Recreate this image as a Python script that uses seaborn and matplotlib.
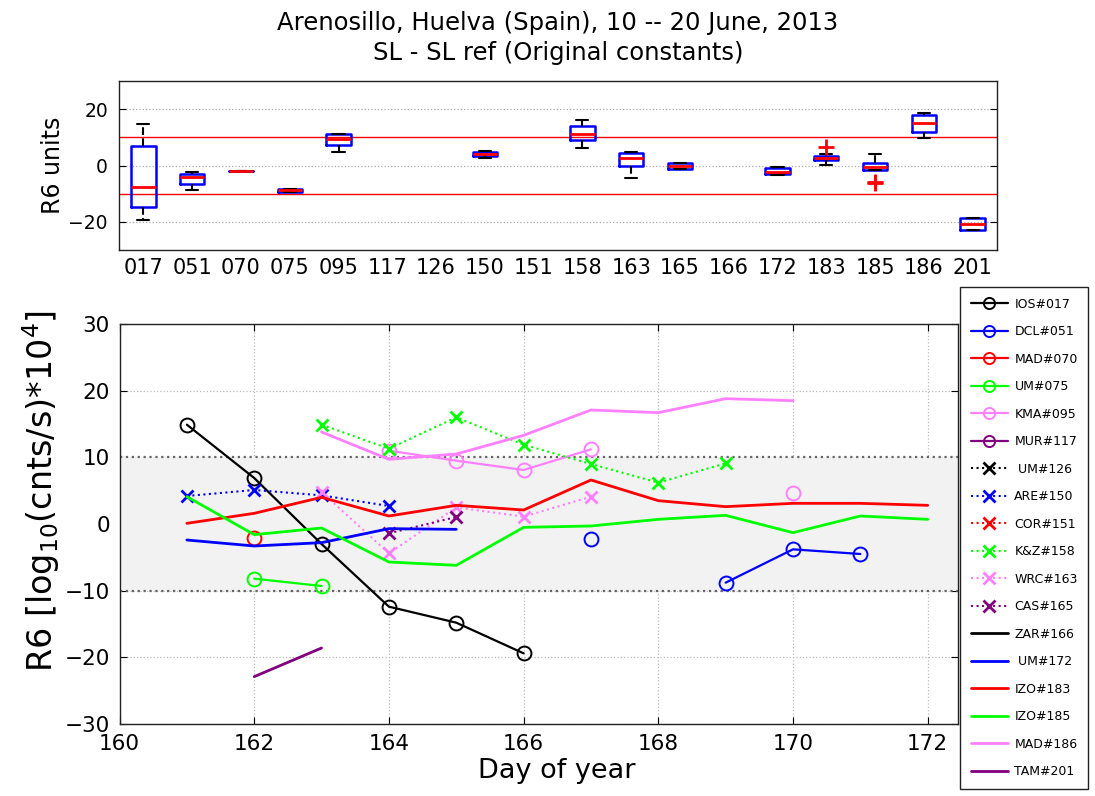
import numpy as np
import pandas as pd
import matplotlib
matplotlib.use("Agg")
import matplotlib.pyplot as plt
from matplotlib.lines import Line2D
import seaborn as sns

# ---------------------------------------------------------------- data
days = [161, 162, 163, 164, 165, 166, 167, 168, 169, 170, 171, 172]
nan = np.nan

ios_017 = [14.9, 6.9, -3.0, -12.4, -14.8, -19.4, nan, nan, nan, nan, nan, nan]
dcl_051 = [nan, nan, nan, nan, nan, nan, -2.3, nan, -8.8, -3.8, -4.5, nan]
mad_070 = [nan, -2.1, nan, nan, nan, nan, nan, nan, nan, nan, nan, nan]
um_075 = [nan, -8.2, -9.3, nan, nan, nan, nan, nan, nan, nan, nan, nan]
kma_095 = [nan, nan, nan, 11.0, 9.5, 8.1, 11.2, nan, nan, 4.7, nan, nan]
mur_117 = [nan] * 12
um_126 = [nan] * 12
are_150 = [4.2, 5.1, 4.3, 2.7, nan, nan, nan, nan, nan, nan, nan, nan]
cor_151 = [nan] * 12
kz_158 = [nan, nan, 14.9, 11.3, 16.0, 11.9, 9.0, 6.2, 9.1, nan, nan, nan]
wrc_163 = [nan, nan, 4.8, -4.4, 2.5, 1.1, 4.1, nan, nan, nan, nan, nan]
cas_165 = [nan, nan, nan, -1.4, 1.05, nan, nan, nan, nan, nan, nan, nan]
zar_166 = [nan] * 12
um_172 = [-2.4, -3.3, -2.8, -0.7, -0.8, nan, nan, nan, nan, nan, nan, nan]
izo_183 = [0.1, 1.6, 4.0, 1.2, 2.8, 2.1, 6.6, 3.5, 2.6, 3.1, 3.1, 2.8]
izo_185 = [4.1, -1.6, -0.6, -5.7, -6.2, -0.5, -0.3, 0.7, 1.3, -1.3, 1.2, 0.7]
mad_186 = [nan, nan, 13.8, 9.7, 10.5, 13.3, 17.1, 16.7, 18.8, 18.5, nan, nan]
tam_201 = [nan, -22.9, -18.6, nan, nan, nan, nan, nan, nan, nan, nan, nan]

station_labels = ["IOS#017", "DCL#051", "MAD#070", "UM#075", "KMA#095", "MUR#117",
                  " UM#126", "ARE#150", "COR#151", "K&Z#158", "WRC#163", "CAS#165",
                  "ZAR#166", " UM#172", "IZO#183", "IZO#185", "MAD#186", "TAM#201"]
station_codes = ["017", "051", "070", "075", "095", "117", "126", "150", "151",
                 "158", "163", "165", "166", "172", "183", "185", "186", "201"]
series = [ios_017, dcl_051, mad_070, um_075, kma_095, mur_117, um_126, are_150,
          cor_151, kz_158, wrc_163, cas_165, zar_166, um_172, izo_183, izo_185,
          mad_186, tam_201]

# ---------------------------------------------------------------- styles
black, blue, red, green, pink, purple = "#000000", "#0000ff", "#ff0000", "#00ff00", "#ff80ff", "#800080"
palette6 = [black, blue, red, green, pink, purple]
colors = palette6 * 3
markers = ["o"] * 6 + ["x"] * 6 + [None] * 6
linestyles = ["-"] * 6 + [":"] * 6 + ["-"] * 6

sns.set_style("ticks")
plt.rcParams["font.family"] = ["DejaVu Sans"]
plt.rcParams["mathtext.default"] = "regular"
for key in ("text.color", "axes.labelcolor", "xtick.color", "ytick.color"):
    plt.rcParams[key] = "black"

fig = plt.figure(figsize=(10.95, 7.96), dpi=100)
ax_top = fig.add_axes([119 / 1095, 1 - 250 / 796, 878 / 1095, 169 / 796])
ax = fig.add_axes([119.5 / 1095, 1 - 724 / 796, 838.5 / 1095, 400 / 796])


# ---------------------------------------------------------------- box statistics
def box_stats(values):
    v = np.sort(np.asarray(values, dtype=float))
    v = v[~np.isnan(v)]
    if v.size == 0:
        return None
    q1, med, q3 = np.percentile(v, [25, 50, 75], method="hazen")
    iqr = q3 - q1
    lo, hi = q1 - 1.5 * iqr, q3 + 1.5 * iqr
    inside = v[(v >= lo) & (v <= hi)]
    return dict(med=med, q1=q1, q3=q3, whislo=inside.min(), whishi=inside.max(),
                fliers=v[(v < lo) | (v > hi)])


stats, positions = [], []
for i, vals in enumerate(series):
    s = box_stats(vals)
    if s is not None:
        stats.append(s)
        positions.append(i + 1)

ax_top.axhline(10, color=red, lw=1, zorder=1)
ax_top.axhline(-10, color=red, lw=1, zorder=1)
ax_top.bxp(stats, positions=positions, widths=0.5, capwidths=0.25,
           boxprops=dict(color=blue, lw=1.8),
           medianprops=dict(color=red, lw=2),
           whiskerprops=dict(color=black, lw=1.5, ls="--"),
           capprops=dict(color=black, lw=1.5),
           flierprops=dict(marker="+", markeredgecolor=red, markersize=11, mew=2),
           zorder=3)
ax_top.set_xlim(0.5, 18.5)
ax_top.set_ylim(-30, 30)
ax_top.set_yticks([-20, 0, 20])
ax_top.set_xticks(range(1, 19))
ax_top.set_xticklabels(station_codes)
ax_top.yaxis.grid(True, ls=":", color="#aaaaaa", lw=0.9)
ax_top.set_axisbelow(True)
ax_top.tick_params(axis="x", length=0, labelsize=15, pad=6)
ax_top.tick_params(axis="y", direction="in", left=True, right=True, length=5,
                   labelsize=13.5, pad=8)
ax_top.set_ylabel("R6 units", fontsize=17)
ax_top.yaxis.set_label_coords(-0.062, 0.5)
ax_top.set_title("Arenosillo, Huelva (Spain), 10 -- 20 June, 2013\nSL - SL ref (Original constants)",
                 fontsize=17.5, pad=15, linespacing=1.3)

# ---------------------------------------------------------------- daily series
ax.axhspan(-10, 10, color="#f2f2f2", zorder=1, lw=0)
ax.axhline(10, color="#666666", ls=":", lw=1.6, zorder=1.5)
ax.axhline(-10, color="#666666", ls=":", lw=1.6, zorder=1.5)

handles = []
for vals, lab, c, m, ls in zip(series, station_labels, colors, markers, linestyles):
    df = pd.DataFrame({"day": days, "value": vals})
    df["seg"] = df["value"].isna().cumsum()
    df = df.dropna()
    kw = dict(color=c, linestyle=ls)
    if m == "o":
        kw.update(marker="o", markersize=10, markerfacecolor="none", markeredgecolor=c, mew=1.4)
        lw = 1.6
        hk = dict(marker="o", markersize=8, markerfacecolor="none", markeredgecolor=c, mew=1.4)
    elif m == "x":
        kw.update(marker="x", markersize=8, markeredgecolor=c, mew=2)
        lw = 1.5
        hk = dict(marker="x", markersize=8, markeredgecolor=c, mew=2)
    else:
        lw = 2
        hk = {}
    if len(df):
        sns.lineplot(data=df, x="day", y="value", units="seg", estimator=None, sort=False,
                     lw=lw, ax=ax, legend=False, zorder=3, **kw)
    handles.append(Line2D([], [], color=c, linestyle=ls, lw=lw, label=lab, **hk))

ax.set_xlim(160, 172.45)
ax.set_ylim(-30, 30)
ax.set_xticks(range(160, 173, 2))
ax.set_yticks(range(-30, 31, 10))
ax.grid(True, ls=":", color="#bbbbbb", lw=0.9)
ax.set_axisbelow(True)
ax.tick_params(direction="in", top=True, right=True, length=5, labelsize=15.5, pad=7)
ax.set_xlabel("Day of year", fontsize=19.5)
ax.set_ylabel(r"R6 [log$_{10}$(cnts/s)*10$^4$]", fontsize=24)
ax.xaxis.set_label_coords(0.522, -0.085)
ax.yaxis.set_label_coords(-0.069, 0.5825)

for a in (ax, ax_top):
    for sp in a.spines.values():
        sp.set_color("#222222")
        sp.set_linewidth(1)

leg = fig.legend(handles=handles, loc="upper left",
                 bbox_to_anchor=(960 / 1095, 1 - 287 / 796), borderaxespad=0,
                 fontsize=9, handlelength=3.0, handletextpad=0.5, labelspacing=1.16,
                 borderpad=0.85, frameon=True, fancybox=False, edgecolor="#222222",
                 framealpha=1, numpoints=1)
leg.get_frame().set_linewidth(1)

fig.savefig("out.png", dpi=100)
